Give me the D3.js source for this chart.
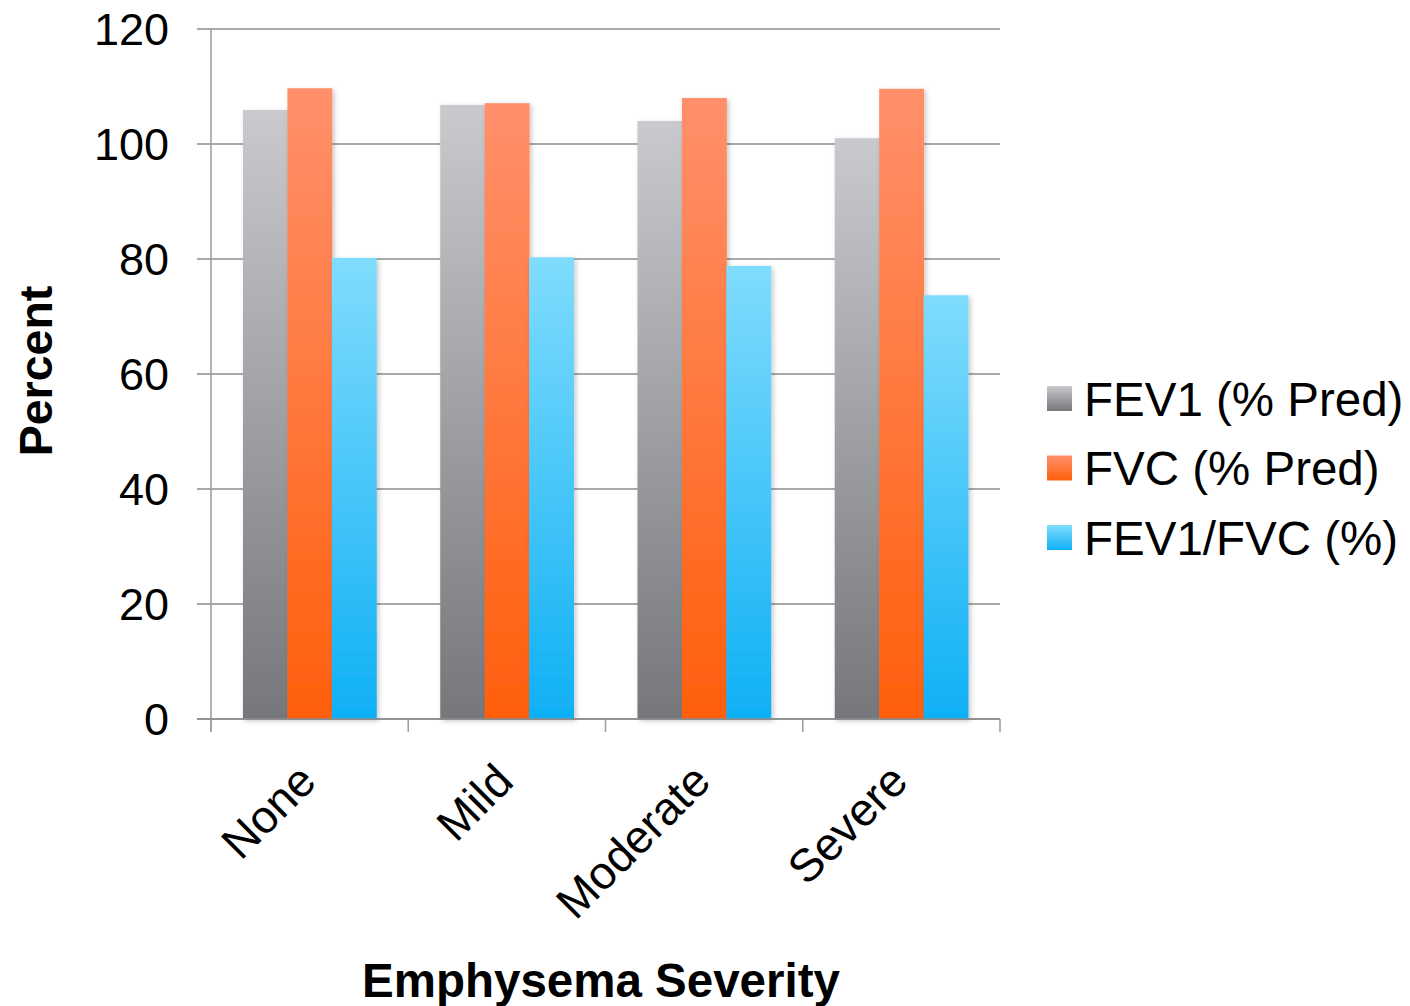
<!DOCTYPE html>
<html>
<head>
<meta charset="utf-8">
<script src="https://cdn.jsdelivr.net/npm/d3@7"></script>
<style>
  html, body { margin: 0; padding: 0; background: #fff; }
  svg { display: block; font-family: "Liberation Sans", Arial, sans-serif; }
</style>
</head>
<body>
<svg id="chart" width="1410" height="1006"></svg>
<script>
const categories = ["None", "Mild", "Moderate", "Severe"];
const seriesNames = ["FEV1 (% Pred)", "FVC (% Pred)", "FEV1/FVC (%)"];
const fev1 = [105.9, 106.8, 104.0, 101.0];
const fvc = [109.7, 107.1, 108.0, 109.6];
const ratio = [80.2, 80.3, 78.8, 73.7];
const yTicks = [0, 20, 40, 60, 80, 100, 120];
const seriesValues = [fev1, fvc, ratio];
const gradStops = [
  ["#c9cacd", "#76777b"],
  ["#ff906b", "#ff5f0c"],
  ["#80dcfd", "#0fb0f5"]
];

const svg = d3.select("#chart");
const pLeft = 211, pRight = 1000, pTop = 29, pBottom = 719;

const defs = svg.append("defs");
gradStops.forEach((s, i) => {
  const g = defs.append("linearGradient").attr("id", "g" + i)
    .attr("x1", 0).attr("y1", 0).attr("x2", 0).attr("y2", 1);
  g.append("stop").attr("offset", "0%").attr("stop-color", s[0]);
  g.append("stop").attr("offset", "100%").attr("stop-color", s[1]);
});
const f = defs.append("filter").attr("id", "shadow")
  .attr("x", "-20%").attr("y", "-5%").attr("width", "150%").attr("height", "115%");
f.append("feDropShadow").attr("dx", 2).attr("dy", 2).attr("stdDeviation", 2.5)
  .attr("flood-color", "#000").attr("flood-opacity", 0.22);

const y = d3.scaleLinear().domain([0, 120]).range([pBottom, pTop]);
const x0 = d3.scaleBand().domain(categories).range([pLeft, pRight]).padding(0);
const x1 = d3.scaleBand().domain(d3.range(seriesNames.length))
  .range([0, x0.bandwidth()]).paddingInner(0).paddingOuter(0.72);

// gridlines
const gridColor = "#8c8c8c";
svg.append("g").selectAll("line").data(yTicks).join("line")
  .attr("x1", pLeft - 14).attr("x2", pRight)
  .attr("y1", d => y(d)).attr("y2", d => y(d))
  .attr("stroke", gridColor).attr("stroke-width", 1.6);

// y axis line
svg.append("line").attr("x1", pLeft).attr("x2", pLeft)
  .attr("y1", pTop).attr("y2", pBottom + 13)
  .attr("stroke", "#a0a0a0").attr("stroke-width", 1.6);

// bottom ticks at category boundaries
const bounds = categories.map(c => x0(c)).concat([pRight]);
svg.append("g").selectAll("line").data(bounds).join("line")
  .attr("x1", d => d).attr("x2", d => d)
  .attr("y1", pBottom).attr("y2", pBottom + 13)
  .attr("stroke", "#a0a0a0").attr("stroke-width", 1.6);

// bars
const groups = svg.append("g").selectAll("g").data(categories).join("g")
  .attr("transform", c => `translate(${x0(c)},0)`);
groups.selectAll("rect")
  .data((c, ci) => seriesValues.map((s, si) => ({ si, v: s[ci] })))
  .join("rect")
  .attr("x", d => x1(d.si))
  .attr("width", x1.bandwidth() + 0.5)
  .attr("y", d => y(d.v))
  .attr("height", d => y(0) - y(d.v))
  .attr("fill", d => `url(#g${d.si})`)
  .attr("filter", "url(#shadow)");

// redraw baseline over bars
svg.append("line").attr("x1", pLeft - 14).attr("x2", pRight)
  .attr("y1", y(0)).attr("y2", y(0))
  .attr("stroke", gridColor).attr("stroke-width", 1.6);

// y tick labels
svg.append("g").selectAll("text").data(yTicks).join("text")
  .attr("x", 169).attr("y", d => y(d))
  .attr("dy", "0.36em")
  .attr("text-anchor", "end")
  .attr("font-size", 45)
  .attr("fill", "#000")
  .text(d => d);

// x category labels
svg.append("g").selectAll("text").data(categories).join("text")
  .attr("transform", c => `translate(${x0(c) + x0.bandwidth() / 2 - 14},${pBottom + 42}) rotate(-45)`)
  .attr("text-anchor", "end")
  .attr("dy", "0.7em")
  .attr("font-size", 46)
  .attr("fill", "#000")
  .text(c => c);

// axis titles
svg.append("text")
  .attr("x", 601).attr("y", 997)
  .attr("text-anchor", "middle")
  .attr("font-size", 47.5).attr("font-weight", "bold")
  .text("Emphysema Severity");

svg.append("text")
  .attr("transform", "translate(52,371) rotate(-90)")
  .attr("text-anchor", "middle")
  .attr("font-size", 46.5).attr("font-weight", "bold")
  .text("Percent");

// legend
const leg = svg.append("g").selectAll("g").data(seriesNames).join("g")
  .attr("transform", (d, i) => `translate(1047,${386 + i * 69.5})`);
leg.append("rect").attr("width", 25).attr("height", 25)
  .attr("fill", (d, i) => `url(#g${i})`);
leg.append("text").attr("x", 37).attr("y", 12.5).attr("dy", "0.36em")
  .attr("font-size", 47.5).attr("fill", "#000")
  .text(d => d);
</script>
</body>
</html>
